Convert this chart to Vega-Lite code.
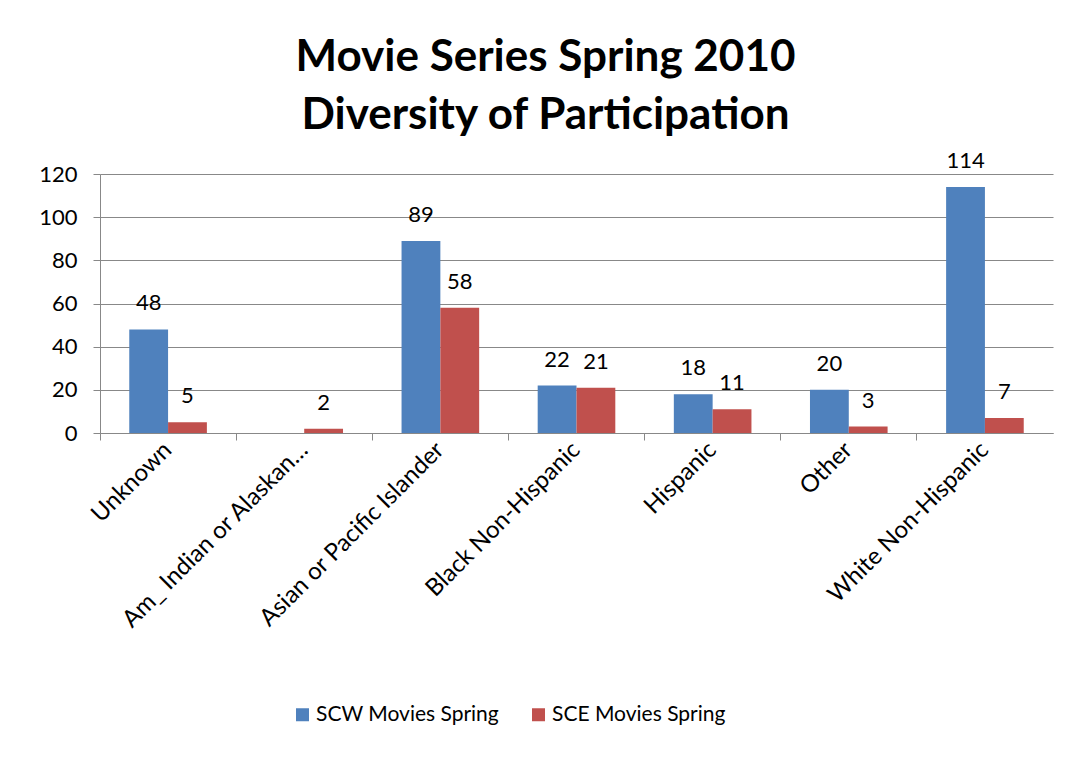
{
  "$schema": "https://vega.github.io/schema/vega-lite/v6.json",
  "autosize": {"type": "none"},
  "width": 953,
  "height": 259,
  "padding": {"left": 100, "top": 174, "right": 21, "bottom": 324},
  "background": "white",
  "title": {
    "text": ["Movie Series Spring 2010", "Diversity of Participation"],
    "font": "Lato",
    "fontSize": 44,
    "fontWeight": "bold",
    "color": "black",
    "anchor": "middle",
    "dx": -31,
    "offset": 12,
    "lineHeight": 58
  },
  "data": {
    "values": [
      {"category": "Unknown", "series": "SCW Movies Spring", "value": 48},
      {"category": "Unknown", "series": "SCE Movies Spring", "value": 5},
      {"category": "Am_ Indian or Alaskan…", "series": "SCE Movies Spring", "value": 2},
      {"category": "Asian or Pacific Islander", "series": "SCW Movies Spring", "value": 89},
      {"category": "Asian or Pacific Islander", "series": "SCE Movies Spring", "value": 58},
      {"category": "Black Non-Hispanic", "series": "SCW Movies Spring", "value": 22},
      {"category": "Black Non-Hispanic", "series": "SCE Movies Spring", "value": 21},
      {"category": "Hispanic", "series": "SCW Movies Spring", "value": 18},
      {"category": "Hispanic", "series": "SCE Movies Spring", "value": 11},
      {"category": "Other", "series": "SCW Movies Spring", "value": 20},
      {"category": "Other", "series": "SCE Movies Spring", "value": 3},
      {"category": "White Non-Hispanic", "series": "SCW Movies Spring", "value": 114},
      {"category": "White Non-Hispanic", "series": "SCE Movies Spring", "value": 7}
    ]
  },
  "encoding": {
    "x": {
      "field": "category",
      "type": "nominal",
      "sort": ["Unknown", "Am_ Indian or Alaskan…", "Asian or Pacific Islander", "Black Non-Hispanic", "Hispanic", "Other", "White Non-Hispanic"],
      "scale": {"paddingInner": 0, "paddingOuter": 0},
      "axis": {
        "title": null,
        "labelAngle": -45,
        "labelAlign": "right",
        "labelBaseline": "middle",
        "labelFont": "Lato",
        "labelFontSize": 24,
        "labelColor": "black",
        "labelLimit": 400,
        "labelPadding": 6,
        "bandPosition": 0,
        "labelOffset": 0,
        "tickSize": 7,
        "tickColor": "#888888",
        "domainColor": "#888888",
        "grid": false
      }
    },
    "xOffset": {
      "field": "series",
      "type": "nominal",
      "sort": ["SCW Movies Spring", "SCE Movies Spring"],
      "scale": {"paddingInner": 0, "paddingOuter": 0.754}
    },
    "y": {
      "field": "value",
      "type": "quantitative",
      "scale": {"domain": [0, 120], "nice": false},
      "axis": {
        "title": null,
        "values": [0, 20, 40, 60, 80, 100, 120],
        "labelFont": "Lato",
        "labelFontSize": 22,
        "labelColor": "black",
        "labelPadding": 16,
        "tickSize": 7,
        "tickColor": "#888888",
        "domainColor": "#888888",
        "gridColor": "#888888",
        "gridWidth": 1.2
      }
    }
  },
  "layer": [
    {
      "mark": {"type": "bar"},
      "encoding": {
        "color": {
          "field": "series",
          "type": "nominal",
          "sort": ["SCW Movies Spring", "SCE Movies Spring"],
          "scale": {"domain": ["SCW Movies Spring", "SCE Movies Spring"], "range": ["#4F81BD", "#C0504D"]},
          "legend": {
            "title": null,
            "orient": "none",
            "direction": "horizontal",
            "legendX": 192,
            "legendY": 530,
            "symbolType": "square",
            "symbolSize": 169,
            "symbolStrokeWidth": 0,
            "labelFont": "Lato",
            "labelFontSize": 21,
            "labelColor": "black",
            "labelLimit": 400,
            "columnPadding": 28,
            "labelOffset": 3
          }
        }
      }
    },
    {
      "mark": {"type": "text", "font": "Lato", "fontSize": 22, "color": "black", "baseline": "alphabetic", "dy": -19},
      "encoding": {
        "text": {"field": "value", "type": "quantitative"}
      }
    }
  ],
  "config": {
    "view": {"stroke": null}
  }
}
